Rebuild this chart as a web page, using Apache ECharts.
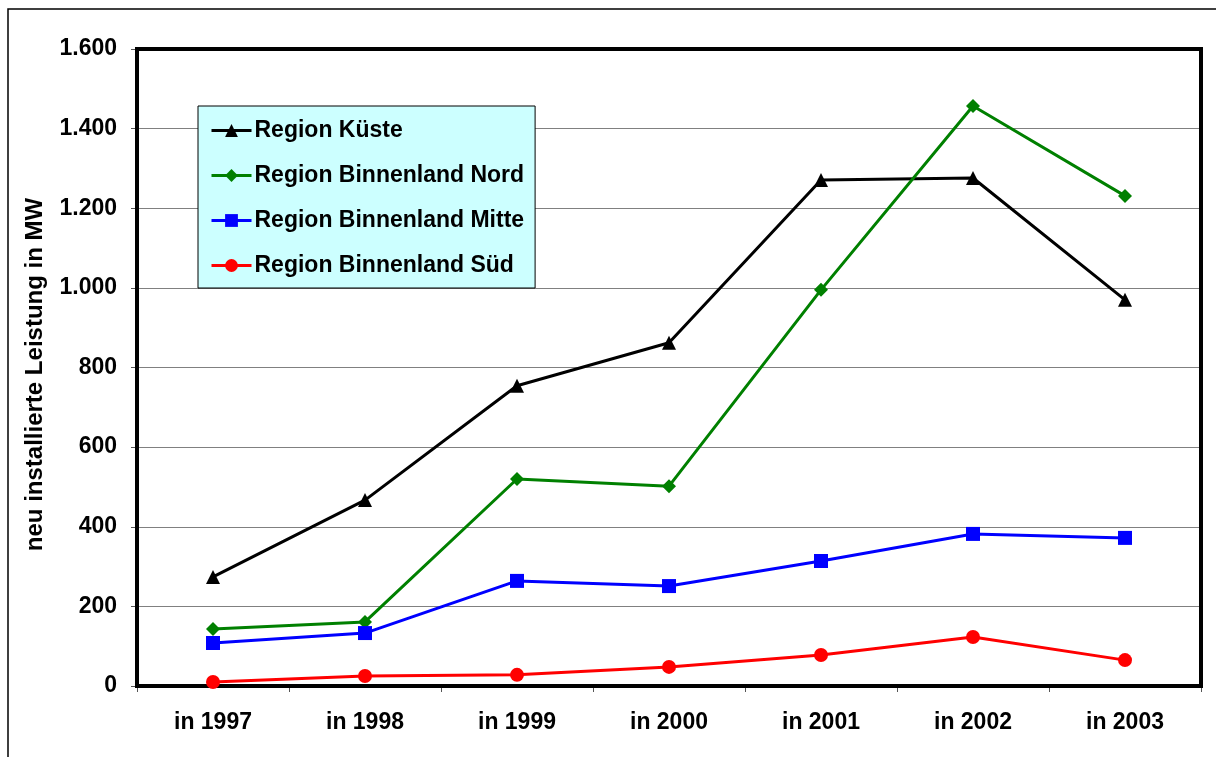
<!DOCTYPE html>
<html>
<head>
<meta charset="utf-8">
<script src="https://cdn.jsdelivr.net/npm/echarts@6/dist/echarts.min.js"></script>
<style>
  html, body { margin: 0; padding: 0; background: #fff; }
  #chart { width: 1216px; height: 757px; }
</style>
</head>
<body>
<div id="chart"></div>
<script>
const years = ['in 1997', 'in 1998', 'in 1999', 'in 2000', 'in 2001', 'in 2002', 'in 2003'];
const kueste = [274, 467, 754, 862, 1271, 1276, 970];
const nord = [143, 161, 520, 502, 995, 1457, 1231];
const mitte = [108, 133, 264, 251, 314, 382, 372];
const sued = [10, 25, 28, 48, 78, 123, 65];

const font = 'Liberation Sans, Arial, sans-serif';

function fmt(v) {
  return String(v).replace(/\B(?=(\d{3})+(?!\d))/g, '.');
}

function line(name, data, color, symbol, size) {
  return {
    name,
    type: 'line',
    data,
    symbol,
    symbolSize: size,
    itemStyle: { color },
    lineStyle: { color, width: 3 },
    emphasis: { disabled: true }
  };
}

const chart = echarts.init(document.getElementById('chart'), null, { renderer: 'canvas' });

chart.setOption({
  animation: false,
  backgroundColor: '#fff',
  graphic: [{
    type: 'rect',
    shape: { x: 8, y: 9, width: 1230, height: 770 },
    style: { fill: 'none', stroke: '#000', lineWidth: 1.5 },
    z: 0
  }],
  grid: {
    left: 137, right: 15, top: 49, bottom: 71,
    show: true,
    borderColor: '#000',
    borderWidth: 4,
    z: 3
  },
  legend: {
    orient: 'vertical',
    left: 198,
    top: 106,
    backgroundColor: '#ccffff',
    borderColor: '#000',
    borderWidth: 1,
    padding: [13, 11, 11, 12],
    itemWidth: 40,
    itemHeight: 16,
    itemGap: 22,
    lineStyle: { width: 3 },
    textStyle: { fontFamily: font, fontWeight: 'bold', fontSize: 23, lineHeight: 23, color: '#000', padding: [0, 0, 0, -2] },
    data: ['Region Küste', 'Region Binnenland Nord', 'Region Binnenland Mitte', 'Region Binnenland Süd']
  },
  xAxis: {
    type: 'category',
    data: years,
    boundaryGap: true,
    axisLine: { lineStyle: { color: '#000', width: 4 } },
    axisTick: { show: true, length: 6, lineStyle: { color: '#555', width: 1 } },
    axisLabel: { fontFamily: font, fontWeight: 'bold', fontSize: 23, color: '#000', margin: 25 },
    splitLine: { show: false }
  },
  yAxis: {
    type: 'value',
    min: 0,
    max: 1600,
    interval: 200,
    name: 'neu installierte Leistung in MW',
    nameLocation: 'middle',
    nameRotate: 90,
    nameGap: 90,
    nameTextStyle: { fontFamily: font, fontWeight: 'bold', fontSize: 24, color: '#000', padding: [0, 14, 0, 0] },
    axisLine: { show: true, lineStyle: { color: '#000', width: 4 } },
    axisTick: { show: true, length: 6, lineStyle: { color: '#555', width: 1 } },
    axisLabel: { fontFamily: font, fontWeight: 'bold', fontSize: 23, color: '#000', margin: 20, formatter: fmt },
    splitLine: { show: true, lineStyle: { color: '#808080', width: 1 } }
  },
  series: [
    line('Region Küste', kueste, '#000000', 'triangle', 14),
    line('Region Binnenland Nord', nord, '#008000', 'diamond', 14),
    line('Region Binnenland Mitte', mitte, '#0000ff', 'rect', 14),
    line('Region Binnenland Süd', sued, '#ff0000', 'circle', 14)
  ]
});
</script>
</body>
</html>
